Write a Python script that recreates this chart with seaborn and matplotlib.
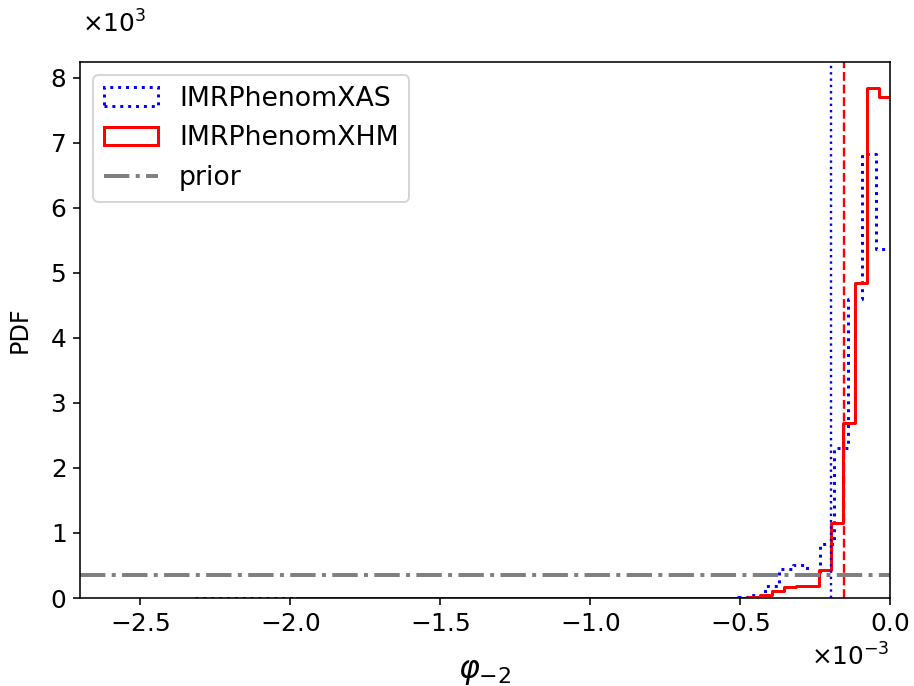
import numpy as np
import pandas as pd
import matplotlib
matplotlib.use("Agg")
import matplotlib.pyplot as plt
from matplotlib.patches import Patch
from matplotlib.lines import Line2D
from matplotlib.ticker import ScalarFormatter
import seaborn as sns

# ---- data (x in units of 1e-3, density in units of 1e3) ----
xas_edges = [-2.317, -0.5077, -0.4617, -0.4157, -0.3697, -0.3237, -0.2777,
             -0.2317, -0.1857, -0.1397, -0.0937, -0.0477, -0.0017]
xas_density = [0.004, 0.02, 0.05, 0.19, 0.45, 0.51, 0.36,
               0.83, 2.30, 4.60, 6.83, 5.37]

xhm_edges = [-1.977, -0.473, -0.4333, -0.3937, -0.3543, -0.3147, -0.275,
             -0.2357, -0.196, -0.1563, -0.1167, -0.0773, -0.0377, 0.002]
xhm_density = [0.003, 0.015, 0.05, 0.11, 0.175, 0.185, 0.19,
               0.43, 1.16, 2.69, 4.84, 7.85, 7.70]

xas_line = -0.1957
xhm_line = -0.1533
prior_level = 0.36

series_labels = ["IMRPhenomXAS", "IMRPhenomXHM", "prior"]
x_ticks = [-2.5, -2.0, -1.5, -1.0, -0.5, 0.0]
y_ticks = [0, 1, 2, 3, 4, 5, 6, 7, 8]

def to_frame(edges, dens):
    e = np.array(edges) * 1e-3
    c = 0.5 * (e[:-1] + e[1:])
    return pd.DataFrame({"x": c, "w": np.array(dens) * 1e3}), [float(v) for v in e]

df_xas, e_xas = to_frame(xas_edges, xas_density)
df_xhm, e_xhm = to_frame(xhm_edges, xhm_density)

dpi = 142.8
fig = plt.figure(figsize=(914 / dpi, 686 / dpi), dpi=dpi)
ax = fig.add_axes([80 / 914, 1 - 598 / 686, 810 / 914, 536 / 686])

sns.histplot(data=df_xas, x="x", weights="w", bins=e_xas, stat="count",
             element="step", fill=False, color="blue", linestyle=":",
             linewidth=1.5, ax=ax)
sns.histplot(data=df_xhm, x="x", weights="w", bins=e_xhm, stat="count",
             element="step", fill=False, color="red", linestyle="-",
             linewidth=1.5, ax=ax)

ax.axvline(xas_line * 1e-3, color="blue", linestyle=":", linewidth=1.2)
ax.axvline(xhm_line * 1e-3, color="red", linestyle="--", linewidth=1.2)
ax.axhline(prior_level * 1e3, color="gray", linestyle="-.", linewidth=2)

ax.set_xlim(-2.7e-3, 0)
ax.set_ylim(0, 8.2425e3)

for axis in (ax.xaxis, ax.yaxis):
    fmt = ScalarFormatter(useMathText=True)
    fmt.set_scientific(True)
    fmt.set_powerlimits((0, 0))
    axis.set_major_formatter(fmt)
ax.set_xticks(np.array(x_ticks) * 1e-3)
ax.set_yticks(np.array(y_ticks) * 1e3)
ax.tick_params(labelsize=12.5)
ax.xaxis.get_offset_text().set_visible(False)
ax.yaxis.get_offset_text().set_visible(False)
ax.text(1.0, -0.084, r"$\times10^{-3}$", transform=ax.transAxes,
        ha="right", va="top", fontsize=12.5)
ax.text(0.002, 1.097, r"$\times10^{3}$", transform=ax.transAxes,
        ha="left", va="top", fontsize=12.5)

ax.set_xlabel(r"$\varphi_{-2}$", fontsize=16, labelpad=10)
ax.set_ylabel("PDF", fontsize=12, labelpad=9)

handles = [Patch(facecolor="none", edgecolor="blue", linestyle=":", linewidth=1.5),
           Patch(facecolor="none", edgecolor="red", linestyle="-", linewidth=1.5),
           Line2D([0], [0], color="gray", linestyle="-.", linewidth=2)]
ax.legend(handles, series_labels, loc="upper left", fontsize=13.5)

fig.savefig("out.png", dpi=dpi)
